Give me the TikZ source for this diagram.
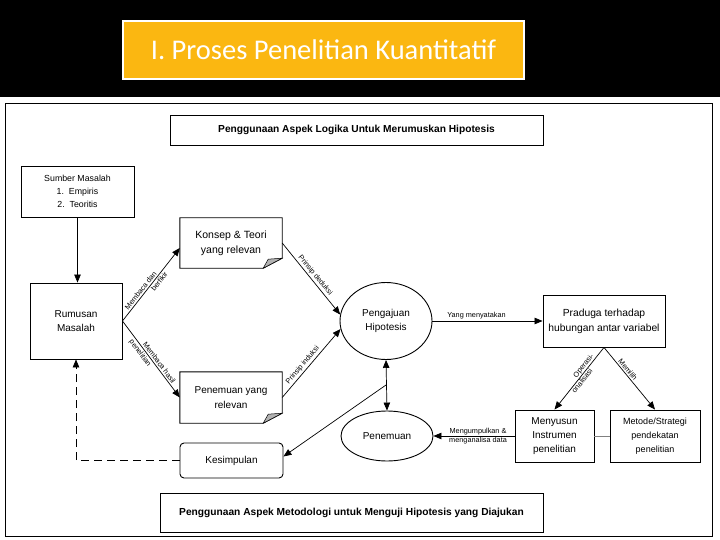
\documentclass[tikz,border=0pt]{standalone}
\usepackage{fontspec}
\setmainfont{Liberation Sans}
\newfontfamily\titlefont{Carlito}
\usetikzlibrary{arrows.meta,shapes.geometric,calc}
\definecolor{titleor}{RGB}{251,183,17}
\begin{document}
\begin{tikzpicture}[x=1pt,y=-1pt,
  box/.style={draw=black, line width=0.9pt, fill=white, align=center, inner sep=0pt, font=\fontsize{10}{14}\selectfont},
  notebox/.style={draw=none, align=center, inner sep=0pt, font=\fontsize{10.5}{15}\selectfont},
  notel/.style={draw=black, line width=0.9pt, fill=white},
  ell/.style={draw=black, line width=0.9pt, fill=white, ellipse, inner sep=0pt, align=center, font=\fontsize{10}{14}\selectfont},
  hdrbox/.style={draw=black, line width=0.9pt, fill=white, inner sep=0pt, font=\bfseries\fontsize{10.2}{12}\selectfont},
  arr/.style={-{Triangle[length=8pt,width=6.5pt]}, line width=0.7pt},
  lbl/.style={font=\fontsize{7.3}{8}\selectfont, inner sep=1.5pt}
]
\useasboundingbox (0,0) rectangle (720,540);
\fill[black] (0,0) rectangle (720,97);
\fill[white] (0,97) rectangle (720,540);
\draw[line width=0.9pt] (5,103) rectangle (712,536);

% title
\node[fill=titleor, draw=white, line width=2pt, minimum width=401pt, minimum height=58pt, inner sep=0pt,
      font=\titlefont\fontsize{28.5}{32}\selectfont, text=white] (title) at (323.5,50) {I. Proses Penelitian Kuantitatif};

% headers
\node[hdrbox, minimum width=373pt, minimum height=30pt] (hdr) at (356.5,130) {Penggunaan Aspek Logika Untuk Merumuskan Hipotesis};
\node[hdrbox, minimum width=383pt, minimum height=39pt] (ftr) at (351.5,512.5) {Penggunaan Aspek Metodologi untuk Menguji Hipotesis yang Diajukan};

% nodes
\node[box, minimum width=113pt, minimum height=51pt, font=\fontsize{8.8}{13}\selectfont] (sumber) at (77.5,191.5) {Sumber Masalah\\1.\ \ Empiris\\2.\ \ Teoritis};
\node[box, minimum width=92pt, minimum height=76pt] (rumusan) at (76,321) {Rumusan\\Masalah};

\node[notebox, minimum width=102pt, minimum height=50pt] (konsep) at (231,243) {};
\draw[notel] (konsep.north west) -- (konsep.north east) -- ($(konsep.south east)+(0,-10)$) -- ($(konsep.south east)+(-19,0)$) -- (konsep.south west) -- cycle;
\filldraw[fill=gray!60, line width=0.5pt] ($(konsep.south east)+(0,-10)$) -- ($(konsep.south east)+(-19,0)$) -- ($(konsep.south east)+(-14,-9)$) -- cycle;
\node[notebox] at (konsep) {Konsep \& Teori\\yang relevan};

\node[notebox, minimum width=102pt, minimum height=51pt] (penrel) at (231,397.5) {};
\draw[notel] (penrel.north west) -- (penrel.north east) -- ($(penrel.south east)+(0,-10)$) -- ($(penrel.south east)+(-19,0)$) -- (penrel.south west) -- cycle;
\filldraw[fill=gray!60, line width=0.5pt] ($(penrel.south east)+(0,-10)$) -- ($(penrel.south east)+(-19,0)$) -- ($(penrel.south east)+(-14,-9)$) -- cycle;
\node[notebox, font=\fontsize{10}{15}\selectfont] at (penrel) {Penemuan yang\\relevan};

\node[ell, minimum width=92pt, minimum height=77pt] (peng) at (386,321) {Pengajuan\\Hipotesis};
\node[ell, minimum width=92pt, minimum height=50pt] (penemuan) at (387,436) {Penemuan};
\node[box, rounded corners=4pt, minimum width=103pt, minimum height=35pt] (kes) at (231.5,460.5) {Kesimpulan};

\node[box, minimum width=122pt, minimum height=52pt, font=\fontsize{10.3}{15}\selectfont] (praduga) at (604,321) {Praduga terhadap\\hubungan antar variabel};
\node[box, minimum width=79pt, minimum height=52pt] (menyusun) at (554.5,436) {Menyusun\\Instrumen\\penelitian};
\node[box, minimum width=90pt, minimum height=52pt, font=\fontsize{9}{14}\selectfont] (metode) at (655,436) {Metode/Strategi\\pendekatan\\penelitian};

% connectors
\draw[arr] (sumber.south) -- (sumber.south |- rumusan.north);
\draw[arr] (rumusan.east) -- ($(konsep.west)+(0,5)$)
  node[lbl, sloped, above, pos=0.38] {Membaca dan}
  node[lbl, sloped, below, pos=0.58] {berfikir};
\draw[arr] (rumusan.east) -- (penrel.west)
  node[lbl, sloped, above, pos=0.58] {Membaca hasil}
  node[lbl, sloped, below, pos=0.38] {penelitian};
\draw[arr] (konsep.east) -- (peng.172)
  node[lbl, sloped, above, midway] {Prinsip deduksi};
\draw[arr] (penrel.east) -- (peng.190)
  node[lbl, sloped, above, pos=0.42] {Prinsip induksi};
\draw[arr] (peng.east) -- (praduga.west)
  node[lbl, above, pos=0.4] {Yang menyatakan};
\draw[arr] (praduga.south) -- (menyusun.north)
  node[lbl, sloped, above, pos=0.34, inner sep=0.5pt] {Operasi-}
  node[lbl, sloped, below, pos=0.5, inner sep=0.5pt] {onalisasi};
\draw[arr] (praduga.south) -- (metode.north)
  node[lbl, sloped, above, pos=0.4] {Memilih};
\draw[gray, line width=0.8pt] (menyusun.east) -- (metode.west);
\draw[arr] (menyusun.west) -- (penemuan.east)
  node[lbl, above, pos=0.45, inner sep=0.6pt] {Mengumpulkan \&}
  node[lbl, below, pos=0.45, inner sep=0.6pt] {menganalisa data};
\draw[{Triangle[length=8pt,width=6.5pt]}-{Triangle[length=8pt,width=6.5pt]}, line width=0.7pt] (peng.south) -- (penemuan.north);
\coordinate (mid) at (386,385);
\draw[arr] (mid) -- ($(kes.east)+(0,-4)$);
\draw[arr, dash pattern=on 8pt off 5pt] (kes.west) -- (kes.west -| rumusan.south) -- (rumusan.south);
\end{tikzpicture}
\end{document}
